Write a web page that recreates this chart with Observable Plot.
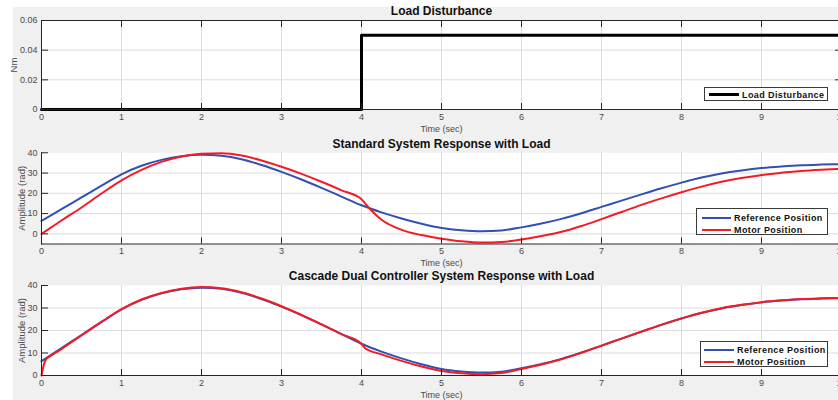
<!DOCTYPE html>
<html><head><meta charset="utf-8">
<script src="https://cdn.jsdelivr.net/npm/d3@7"></script>
<script src="https://cdn.jsdelivr.net/npm/@observablehq/plot@0.6"></script>
<style>
html,body{margin:0;padding:0;background:#fff;}
#fig{position:relative;width:838px;height:400px;overflow:hidden;background:#fff;}
#bg{position:absolute;left:13px;top:7px;right:0;bottom:0;background:#f0f0f0;}
#fig svg{position:absolute;left:0;top:0;}
.legend{position:absolute;background:#fff;border:1px solid #3a3a3a;box-sizing:border-box;font-family:"Liberation Sans",Arial,sans-serif;font-weight:bold;font-size:9px;letter-spacing:0.4px;color:#111;}
.sw{position:absolute;}
.lt{position:absolute;line-height:10px;white-space:nowrap;}
</style>
</head><body>
<div id="fig"><div id="bg"></div></div>
<script>
// ---------- data ----------
const xTicks = [0,1,2,3,4,5,6,7,8,9,10];

const loadTime = [0, 4, 10];
const loadTorque = [0, 0.05, 0.05];
const loadTicks = [0, 0.02, 0.04, 0.06];
const loadTickLabels = ["0", "0.02", "0.04", "0.06"];

const ampTicks = [0, 10, 20, 30, 40];

const refTime = [0,0.25,0.5,0.75,1,1.25,1.5,1.75,2,2.25,2.5,2.75,3,3.25,3.5,3.75,4,4.25,4.5,4.75,5,5.25,5.5,5.75,6,6.25,6.5,6.75,7,7.25,7.5,7.75,8,8.25,8.5,8.75,9,9.25,9.5,9.75,10];
const referencePosition = [6.4,12.2,18.0,23.8,29.4,33.6,36.5,38.3,39.0,38.5,36.8,34.0,30.6,26.8,22.7,18.4,14.1,10.6,7.6,5.0,2.9,1.8,1.3,1.7,3.2,5.1,7.4,10.2,13.3,16.4,19.5,22.5,25.3,27.8,29.8,31.3,32.5,33.3,33.9,34.2,34.4];

const stdMotorTime = [0,0.25,0.5,0.75,1,1.25,1.5,1.75,2,2.25,2.5,2.75,3,3.25,3.5,3.75,4,4.05,4.1,4.25,4.5,4.75,5,5.25,5.5,5.75,6,6.25,6.5,6.75,7,7.25,7.5,7.75,8,8.25,8.5,8.75,9,9.25,9.5,9.75,10];
const stdMotorPosition = [0,6.6,13.0,19.9,26.4,31.6,35.5,38.2,39.5,39.8,38.7,36.2,33.1,29.6,25.7,21.5,17.1,14.8,12.5,7.0,2.0,-0.6,-2.4,-3.7,-4.3,-4.0,-2.8,-1.1,1.0,3.9,7.3,10.8,14.3,17.5,20.5,23.3,25.7,27.6,29.0,30.2,31.0,31.6,32.1];

const casMotorTime = [0,0.02,0.05,0.1,0.2,0.3,0.5,0.75,1,1.25,1.5,1.75,2,2.25,2.5,2.75,3,3.25,3.5,3.75,4,4.04,4.25,4.5,4.75,5,5.25,5.5,5.75,6,6.25,6.5,6.75,7,7.25,7.5,7.75,8,8.25,8.5,8.75,9,9.25,9.5,9.75,10];
const casMotorPosition = [0,3.5,6.8,8.4,10.6,13.0,17.8,23.8,29.5,33.8,36.7,38.6,39.3,38.8,37.0,34.2,30.8,26.9,22.7,18.4,14.1,12.2,9.4,6.5,4.0,2.0,1.0,0.6,1.1,2.9,4.9,7.2,10.1,13.2,16.4,19.5,22.6,25.4,27.9,29.9,31.4,32.6,33.4,34.0,34.3,34.5];

const seriesNames = ["Reference Position", "Motor Position"];
const seriesColors = ["#3050b4", "#f21c24"];
const loadName = "Load Disturbance";

// ---------- helpers ----------
const zip = (ts, vs) => ts.map((t, i) => ({t, v: vs[i]}));
const FONT = '"Liberation Sans", Arial, sans-serif';
const AX = "#262626", TXT = "#4a4a4a", GRID = "#dcdcdc";

function panel({top, bottom, yDomain, yTicks, yFmt, title, ylabel, ylabelDx, box, lines}) {
  const marks = [
    Plot.frame({fill: "white", stroke: "none"}),
    Plot.gridX(xTicks.slice(1, -1), {stroke: GRID, strokeOpacity: 1}),
    Plot.gridY(yTicks.filter(d => d !== yDomain[0] && d !== yDomain[1]), {stroke: GRID, strokeOpacity: 1}),
    ...lines,
    Plot.axisX(xTicks, {anchor: "bottom", tickSize: -6, tickPadding: 10, stroke: AX, fill: TXT, label: null, fontSize: 9}),
    Plot.axisY(yTicks, {anchor: "left", tickSize: -7, tickPadding: 11, stroke: AX, fill: TXT, label: null, fontSize: 9, tickFormat: yFmt}),
    Plot.text([title], {text: d => d, frameAnchor: "top", dy: -9, textAnchor: "middle", lineAnchor: "middle", fontWeight: "bold", fontSize: 12, fill: "#111"}),
    Plot.text(["Time (sec)"], {text: d => d, frameAnchor: "bottom", dy: 19.5, textAnchor: "middle", lineAnchor: "middle", fontSize: 9, fill: TXT}),
    Plot.text([ylabel], {text: d => d, frameAnchor: "left", dx: -ylabelDx, rotate: -90, textAnchor: "middle", lineAnchor: "middle", fontSize: 9.5, fill: TXT})
  ];
  if (box) {
    marks.push(
      Plot.axisX(xTicks, {anchor: "top", tickSize: -6, stroke: AX, label: null, tickFormat: () => ""}),
      Plot.axisY(yTicks, {anchor: "right", tickSize: -7, stroke: AX, label: null, tickFormat: () => ""}),
      Plot.frame({stroke: AX})
    );
  } else {
    marks.push(Plot.frame({anchor: "left", stroke: AX}), Plot.frame({anchor: "bottom", stroke: AX}));
  }
  return Plot.plot({
    width: 838, height: 400,
    marginLeft: 41, marginRight: -3, marginTop: top, marginBottom: 400 - bottom,
    style: {background: "transparent", overflow: "visible", fontFamily: FONT, fontSize: "9px"},
    x: {domain: [0, 10]},
    y: {domain: yDomain},
    marks
  });
}

const fig = document.getElementById("fig");

fig.appendChild(panel({
  top: 20, bottom: 109, yDomain: [0, 0.06], yTicks: loadTicks,
  yFmt: d => loadTickLabels[loadTicks.indexOf(d)],
  title: "Load Disturbance", ylabel: "Nm", ylabelDx: 28, box: true,
  lines: [Plot.line(zip(loadTime, loadTorque), {x: "t", y: "v", curve: "step-after", stroke: "black", strokeWidth: 3})]
}));

fig.appendChild(panel({
  top: 152.3, bottom: 243.5, yDomain: [-5, 40], yTicks: ampTicks, yFmt: d => String(d),
  title: "Standard System Response with Load", ylabel: "Amplitude (rad)", ylabelDx: 20, box: false,
  lines: [
    Plot.line(zip(refTime, referencePosition), {x: "t", y: "v", curve: "monotone-x", stroke: seriesColors[0], strokeWidth: 2}),
    Plot.line(zip(stdMotorTime, stdMotorPosition), {x: "t", y: "v", curve: "monotone-x", stroke: seriesColors[1], strokeWidth: 2})
  ]
}));

fig.appendChild(panel({
  top: 285, bottom: 375, yDomain: [0, 40], yTicks: ampTicks, yFmt: d => String(d),
  title: "Cascade Dual Controller System Response with Load", ylabel: "Amplitude (rad)", ylabelDx: 20, box: false,
  lines: [
    Plot.line(zip(refTime, referencePosition), {x: "t", y: "v", curve: "monotone-x", stroke: seriesColors[0], strokeWidth: 2}),
    Plot.line(zip(casMotorTime, casMotorPosition), {x: "t", y: "v", curve: "monotone-x", stroke: seriesColors[1], strokeWidth: 2})
  ]
}));

// ---------- legends ----------
function legend(box, items, swLeft, swWidth, swHeight, textLeft, rowTop, rowGap) {
  const d = document.createElement("div");
  d.className = "legend";
  Object.assign(d.style, {left: box[0] + "px", top: box[1] + "px", width: box[2] + "px", height: box[3] + "px"});
  items.forEach((it, i) => {
    const cy = rowTop + i * rowGap;
    const s = document.createElement("div");
    s.className = "sw";
    Object.assign(s.style, {left: swLeft + "px", top: (cy - swHeight / 2) + "px", width: swWidth + "px", height: swHeight + "px", background: it.color});
    const t = document.createElement("div");
    t.className = "lt";
    t.textContent = it.name;
    Object.assign(t.style, {left: textLeft + "px", top: (cy - 5) + "px"});
    d.appendChild(s); d.appendChild(t);
  });
  fig.appendChild(d);
}
legend([704, 87, 124, 14], [{name: loadName, color: "black"}], 4, 30, 3, 37, 6.5, 0);
const pairs = seriesNames.map((n, i) => ({name: n, color: seriesColors[i]}));
legend([696, 208, 132, 27], pairs, 5, 29, 2, 37, 8.5, 12);
legend([700, 341, 128, 26], pairs, 3, 30, 2, 36, 8, 12);
</script>
</body></html>
